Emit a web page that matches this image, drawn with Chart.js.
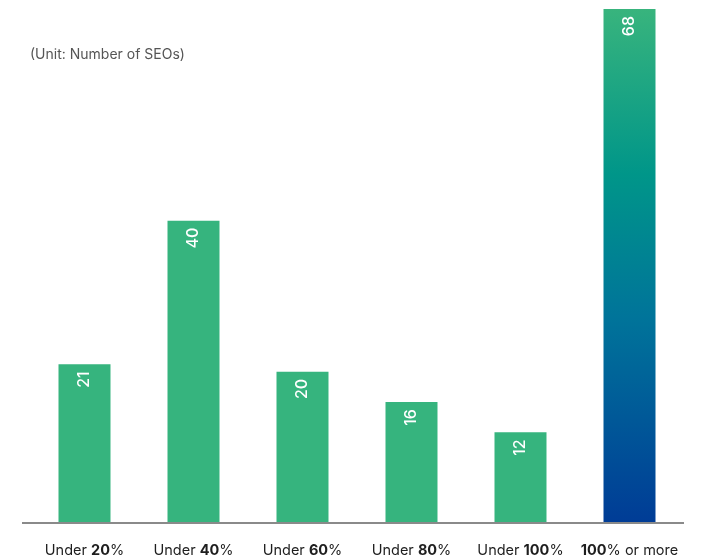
<!DOCTYPE html>
<html>
<head>
<meta charset="utf-8">
<script src="https://cdn.jsdelivr.net/npm/chart.js@4"></script>
<style>
  body { margin: 0; background: #fff; }
  canvas { display: block; }
</style>
</head>
<body>
<canvas id="seoChart" width="703" height="560"></canvas>
<script>
// categories are split into a regular prefix, a bold part and a regular suffix
const labelPrefix = ['Under ', 'Under ', 'Under ', 'Under ', 'Under ', ''];
const labelBold = ['20', '40', '60', '80', '100', '100'];
const labelSuffix = ['%', '%', '%', '%', '%', '% or more'];
const seoCounts = [21, 40, 20, 16, 12, 68];
const unitText = '(Unit: Number of SEOs)';

const green = '#36b47e';
const fontFamily = 'Inter, "Noto Sans", Arial, sans-serif';

// gradient for the last bar (green -> teal -> navy)
function barColor(context) {
	const chart = context.chart;
	const area = chart.chartArea;
	if (!area) return green;
	if (context.dataIndex !== seoCounts.length - 1) return green;
	const y = chart.scales.y;
	const top = y.getPixelForValue(seoCounts[context.dataIndex]);
	const g = chart.ctx.createLinearGradient(0, top, 0, area.bottom);
	g.addColorStop(0, '#38b47d');
	g.addColorStop(0.32, '#009689');
	g.addColorStop(0.6, '#00749a');
	g.addColorStop(1, '#003c96');
	return g;
}

const extrasPlugin = {
	id: 'extrasPlugin',
	afterDatasetsDraw(chart) {
		const { ctx, chartArea, scales: { x, y } } = chart;
		ctx.save();

		// base line
		ctx.strokeStyle = '#8a8a8a';
		ctx.lineWidth = 2;
		ctx.beginPath();
		ctx.moveTo(chartArea.left - 8, chartArea.bottom);
		ctx.lineTo(chartArea.right, chartArea.bottom);
		ctx.stroke();

		// value labels, rotated, inside bar tops
		ctx.fillStyle = '#ffffff';
		ctx.font = '500 16px ' + fontFamily;
		ctx.textAlign = 'right';
		ctx.textBaseline = 'middle';
		seoCounts.forEach(function (v, i) {
			const px = x.getPixelForValue(i);
			const py = y.getPixelForValue(v);
			ctx.save();
			ctx.translate(px, py + 7);
			ctx.rotate(-Math.PI / 2);
			ctx.fillText(String(v), 0, 0);
			ctx.restore();
		});

		// category labels with bold numbers
		ctx.fillStyle = '#1e1e1e';
		ctx.textAlign = 'left';
		ctx.textBaseline = 'alphabetic';
		const regular = '400 14.5px ' + fontFamily;
		const bold = '700 14.5px ' + fontFamily;
		labelBold.forEach(function (b, i) {
			const parts = [[labelPrefix[i], regular], [b, bold], [labelSuffix[i], regular]];
			let w = 0;
			parts.forEach(function (p) { ctx.font = p[1]; w += ctx.measureText(p[0]).width; });
			let cx = x.getPixelForValue(i) - w / 2;
			parts.forEach(function (p) {
				ctx.font = p[1];
				ctx.fillText(p[0], cx, chartArea.bottom + 32);
				cx += ctx.measureText(p[0]).width;
			});
		});

		// unit note
		ctx.fillStyle = '#555555';
		ctx.font = '400 14px ' + fontFamily;
		ctx.textBaseline = 'middle';
		ctx.fillText(unitText, chartArea.left, 55);

		ctx.restore();
	}
};

new Chart(document.getElementById('seoChart').getContext('2d'), {
	type: 'bar',
	data: {
		labels: labelBold.map(function (b, i) { return labelPrefix[i] + b + labelSuffix[i]; }),
		datasets: [{
			data: seoCounts,
			backgroundColor: barColor,
			borderWidth: 0,
			categoryPercentage: 1,
			barPercentage: 0.477
		}]
	},
	options: {
		responsive: false,
		animation: false,
		layout: { padding: { top: 9, bottom: 37, left: 30, right: 19 } },
		plugins: {
			legend: { display: false },
			tooltip: { enabled: false }
		},
		scales: {
			x: {
				display: false
			},
			y: {
				display: false,
				min: 0,
				max: 68
			}
		}
	},
	plugins: [extrasPlugin]
});
</script>
</body>
</html>
